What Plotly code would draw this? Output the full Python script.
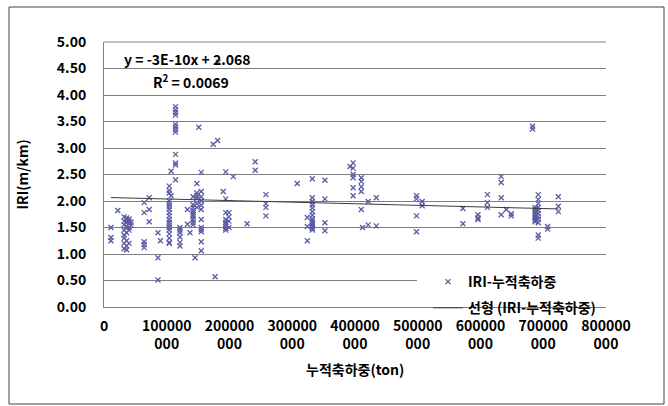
import plotly.graph_objects as go

# ---- data (x in millions of tons, y = IRI m/km) ----
group_load_mton = [11, 22, 32, 36, 40, 43, 64, 72, 86, 90, 104, 107, 114, 121, 133, 137, 142, 145, 148,
                   151, 155, 174, 177, 181, 182, 190, 194, 199, 206, 228, 241, 258, 308, 324, 332, 352,
                   392, 397, 410, 412, 421, 434, 498, 507, 572, 596, 611, 633, 641, 649, 683, 687, 692,
                   707, 724]
group_iri = [
    [1.50, 1.31, 1.25],
    [1.82],
    [1.70, 1.62, 1.55, 1.45, 1.36, 1.30, 1.20, 1.10],
    [1.68, 1.65, 1.60, 1.52, 1.40, 1.25, 1.15, 1.08],
    [1.66, 1.62, 1.58, 1.50, 1.45, 1.20],
    [1.60, 1.55],
    [1.97, 1.78, 1.23, 1.12, 1.18],
    [2.06, 1.84, 1.61],
    [1.40, 0.93, 0.51],
    [1.25],
    [2.28, 2.20, 2.15, 2.00, 1.95, 1.90, 1.85, 1.78, 1.72, 1.65, 1.60, 1.55, 1.50, 1.45, 1.38, 1.30, 1.22, 1.20],
    [2.56, 2.10],
    [3.78, 3.72, 3.67, 3.62, 3.45, 3.40, 3.35, 3.30, 2.88, 2.72, 2.68, 2.40],
    [1.50, 1.45, 1.40, 1.32, 1.22, 1.15],
    [1.84, 1.56],
    [1.40],
    [2.08, 1.93, 1.88, 1.82, 1.78, 1.74, 1.70, 1.65, 1.60, 1.55],
    [0.93],
    [2.33, 2.15, 2.10, 2.05, 1.95, 1.88],
    [3.39],
    [2.54, 2.18, 2.08, 2.00, 1.92, 1.84, 1.65, 1.50, 1.46, 1.42, 1.23, 1.06],
    [3.07],
    [0.57],
    [3.14],
    [4.62],
    [2.18],
    [2.55, 2.04, 1.78, 1.65, 1.60, 1.56, 1.52, 1.48, 1.45],
    [1.78, 1.70, 1.62, 1.50],
    [2.46],
    [1.57],
    [2.74, 2.58],
    [2.12, 1.95, 1.88, 1.72],
    [2.33],
    [1.69, 1.52, 1.25],
    [2.42, 2.06, 1.99, 1.93, 1.87, 1.80, 1.73, 1.66, 1.62, 1.58, 1.55, 1.52, 1.48, 1.45],
    [2.39, 2.04, 1.59, 1.44],
    [2.65],
    [2.72, 2.62, 2.50, 2.44, 2.25, 2.10],
    [2.44, 2.37, 2.27, 2.18, 1.84],
    [1.50],
    [1.99, 1.55],
    [2.06, 1.53],
    [2.10, 2.04, 1.72, 1.42],
    [1.99, 1.91],
    [1.86, 1.57],
    [1.74, 1.68, 1.65],
    [2.12, 1.97, 1.88],
    [2.46, 2.35, 2.06, 1.74],
    [1.84],
    [1.76, 1.72],
    [3.41, 3.36],
    [1.88, 1.84, 1.80, 1.76, 1.72, 1.68, 1.64, 1.61],
    [2.12, 2.03, 1.95, 1.88, 1.82, 1.76, 1.70, 1.65, 1.59, 1.36, 1.30],
    [1.52, 1.47],
    [2.08, 1.90, 1.80],
]
trend_slope = -3e-10
trend_intercept = 2.068
x_tick_vals = [0, 100000000, 200000000, 300000000, 400000000, 500000000, 600000000, 700000000, 800000000]
x_tick_text = ["0", "100000<br>000", "200000<br>000", "300000<br>000", "400000<br>000",
               "500000<br>000", "600000<br>000", "700000<br>000", "800000<br>000"]
series_name = "IRI-누적축하중"
trend_name = "선형 (IRI-누적축하중)"

xs, ys = [], []
for gx, gy in zip(group_load_mton, group_iri):
    for v in gy:
        xs.append(gx * 1e6)
        ys.append(v)

x_min, x_max = min(xs), max(xs)
trend_x = [x_min, x_max]
trend_y = [trend_slope * v + trend_intercept for v in trend_x]

FONT = "Noto Sans CJK KR"
fig = go.Figure()
fig.add_trace(go.Scatter(
    x=xs, y=ys, mode="markers", name=series_name, legendgroup="pts",
    marker=dict(symbol="x-thin-open", size=5, color="#5A5AA6", line=dict(width=1.3, color="#5A5AA6")),
))
fig.add_trace(go.Scatter(
    x=trend_x, y=trend_y, mode="lines", name=trend_name, legendgroup="trend",
    line=dict(color="#3C3C3C", width=1),
))

W, H = 668, 406
L, R, T, B = 104, 62, 42, 99
pw, ph = W - L - R, H - T - B

def px(xp):
    return (xp - L) / pw

def py(yp):
    return (H - B - yp) / ph

fig.update_layout(
    width=W, height=H, autosize=False,
    margin=dict(l=L, r=R, t=T, b=B),
    paper_bgcolor="white", plot_bgcolor="white",
    font=dict(family=FONT, size=14, color="black"),
    showlegend=True,
    legend=dict(x=px(428), y=py(266), xanchor="left", yanchor="top",
                bgcolor="rgba(255,255,255,0)", font=dict(size=14, weight="bold"),
                itemwidth=30, tracegroupgap=5),
    xaxis=dict(range=[0, 800000000], tickvals=x_tick_vals, ticktext=x_tick_text,
               showgrid=False, zeroline=False, showline=True, linecolor="#808080", linewidth=1,
               ticks="", tickfont=dict(size=14, weight="bold"), ticklabelstandoff=6),
    yaxis=dict(range=[0, 5], dtick=0.5, tickformat=".2f",
               showgrid=True, gridcolor="#7F7F7F", gridwidth=1,
               zeroline=False, showline=True, linecolor="#808080", linewidth=1,
               ticks="", tickfont=dict(size=14, weight="bold"), ticklabelstandoff=14),
    shapes=[
        dict(type="rect", xref="paper", yref="paper", x0=px(9), x1=px(664), y0=py(404), y1=py(7),
             line=dict(color="#404040", width=1), fillcolor="rgba(0,0,0,0)", layer="below"),
        dict(type="line", xref="paper", yref="paper", x0=0, x1=1, y0=1, y1=1,
             line=dict(color="#808080", width=1)),
        dict(type="rect", xref="paper", yref="y", x0=px(417), x1=1.0, y0=0.3, y1=0.75,
             fillcolor="white", line=dict(width=0), layer="above"),
    ],
    annotations=[
        dict(text="y = -3E-10x + 2.068", xref="paper", yref="paper", x=px(122), y=py(59),
             xanchor="left", yanchor="middle", showarrow=False, font=dict(size=14, weight="bold")),
        dict(text="R<sup>2</sup> = 0.0069", xref="paper", yref="paper", x=px(151), y=py(81),
             xanchor="left", yanchor="middle", showarrow=False, font=dict(size=14, weight="bold")),
        dict(text="IRI(m/km)", xref="paper", yref="paper", x=px(21), y=0.5, textangle=-90,
             xanchor="center", yanchor="middle", showarrow=False, font=dict(size=14, weight="bold")),
        dict(text="누적축하중(ton)", xref="paper", yref="paper", x=0.5, y=py(369),
             xanchor="center", yanchor="middle", showarrow=False, font=dict(size=14, weight="bold")),
    ],
)

post_js = (
    "document.body.style.margin='0';document.body.style.padding='0';"
    "document.body.style.overflow='hidden';"
    "var gd=document.getElementById('{plot_id}');"
    "Plotly.relayout(gd,{width:668,height:406});"
)

fig.write_html("out.html", config={"responsive": False, "displayModeBar": False}, post_script=post_js)
